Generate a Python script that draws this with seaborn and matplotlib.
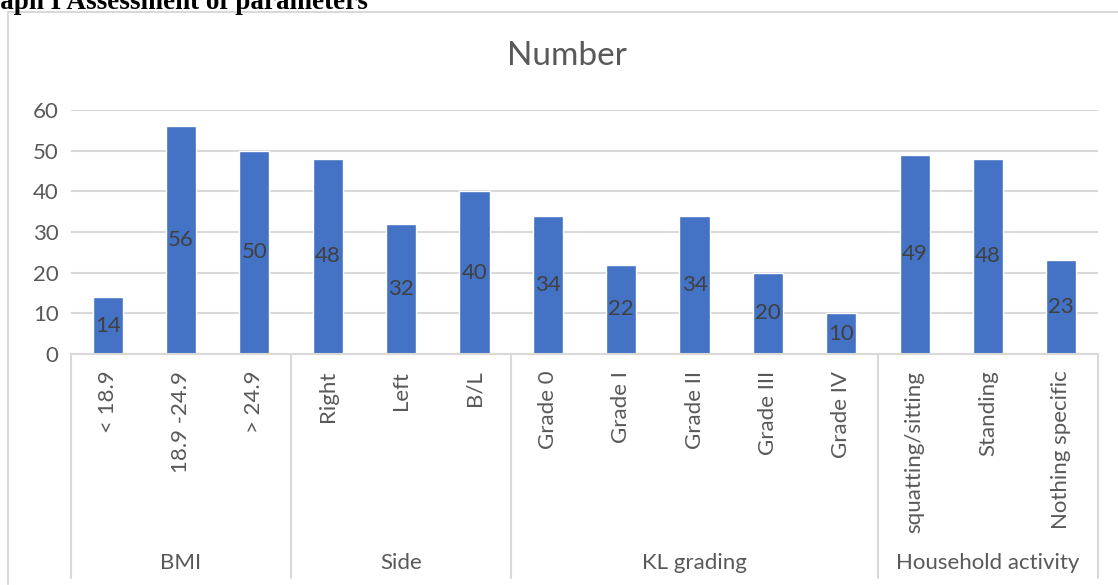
import matplotlib
matplotlib.use("Agg")
import matplotlib.pyplot as plt
import seaborn as sns
import pandas as pd
from matplotlib.lines import Line2D

categories = ["< 18.9", "18.9 -24.9", "> 24.9",
              "Right", "Left", "B/L",
              "Grade 0", "Grade I", "Grade II", "Grade III", "Grade IV",
              "squatting/sitting", "Standing", "Nothing specific"]
values = [14, 56, 50, 48, 32, 40, 34, 22, 34, 20, 10, 49, 48, 23]
groups = ["BMI", "Side", "KL grading", "Household activity"]
group_sizes = [3, 3, 5, 3]
yticks = [0, 10, 20, 30, 40, 50, 60]
title = "Number"
header = "Graph I Assessment of parameters"

sns.set_theme(style="white")
plt.rcParams["font.family"] = ["Lato", "DejaVu Sans"]

W, H = 1118, 585
fig = plt.figure(figsize=(W / 100, H / 100), dpi=100)

def fx(px):
    return px / W

def fy(py):
    return 1 - py / H

ax_left, ax_right, ax_top, ax_bot = 71, 1098, 110, 354
ax = fig.add_axes([fx(ax_left), fy(ax_bot), fx(ax_right - ax_left), (ax_bot - ax_top) / H])

df = pd.DataFrame({"cat": categories, "val": values})
sns.barplot(data=df, x="cat", y="val", order=categories, color="#4472C4",
            width=0.41, saturation=1, ax=ax, zorder=3)

FS = 16
ax.set_xlim(-0.5, len(categories) - 0.5)
ax.set_ylim(0, 60)
ax.set_yticks(yticks)
ax.set_yticklabels([str(t) for t in yticks], fontsize=FS, color="#595959")
ax.tick_params(axis="y", length=0, pad=9)
ax.set_xticks(range(len(categories)))
ax.set_xticklabels(categories, rotation=90, fontsize=FS, color="#595959",
                   va="top", ha="center")
ax.tick_params(axis="x", length=0, pad=12)
ax.set_xlabel("")
ax.set_ylabel("")
ax.grid(axis="y", color="#D9D9D9", linewidth=1.5, zorder=0)
for s in ["top", "right", "left"]:
    ax.spines[s].set_visible(False)
ax.spines["bottom"].set_color("#D9D9D9")
ax.spines["bottom"].set_linewidth(1.5)
ax.spines["bottom"].set_zorder(4)

# data labels centred in bars
for cont in ax.containers:
    ax.bar_label(cont, labels=[str(v) for v in values], label_type="center",
                 fontsize=FS, color="#404040")

# group separators and labels
slot = (ax_right - ax_left) / len(categories)
bounds = [0]
for g in group_sizes:
    bounds.append(bounds[-1] + g)
for b in bounds:
    xpx = ax_left + b * slot
    fig.add_artist(Line2D([fx(xpx), fx(xpx)], [fy(354), fy(578)],
                          color="#D9D9D9", linewidth=1.5))
for i, g in enumerate(groups):
    xc = ax_left + (bounds[i] + bounds[i + 1]) / 2 * slot
    fig.text(fx(xc), fy(563), g, ha="center", va="center", fontsize=FS,
             color="#595959")

# chart border (left and top)
fig.add_artist(Line2D([fx(8), fx(8)], [fy(12), fy(584)], color="#D9D9D9", linewidth=1.5))
fig.add_artist(Line2D([fx(8), fx(1118)], [fy(12), fy(12)], color="#D9D9D9", linewidth=1.5))

# title
fig.text(fx(567), fy(56), title, ha="center", va="center", fontsize=24, color="#595959")

# cropped header text (cut off at the top-left edge, as in the source)
fig.text(fx(-33), fy(9), header, ha="left", va="baseline", fontsize=19.5,
         fontweight="bold", family="Liberation Serif", color="black")

fig.savefig("out.png", dpi=100)
